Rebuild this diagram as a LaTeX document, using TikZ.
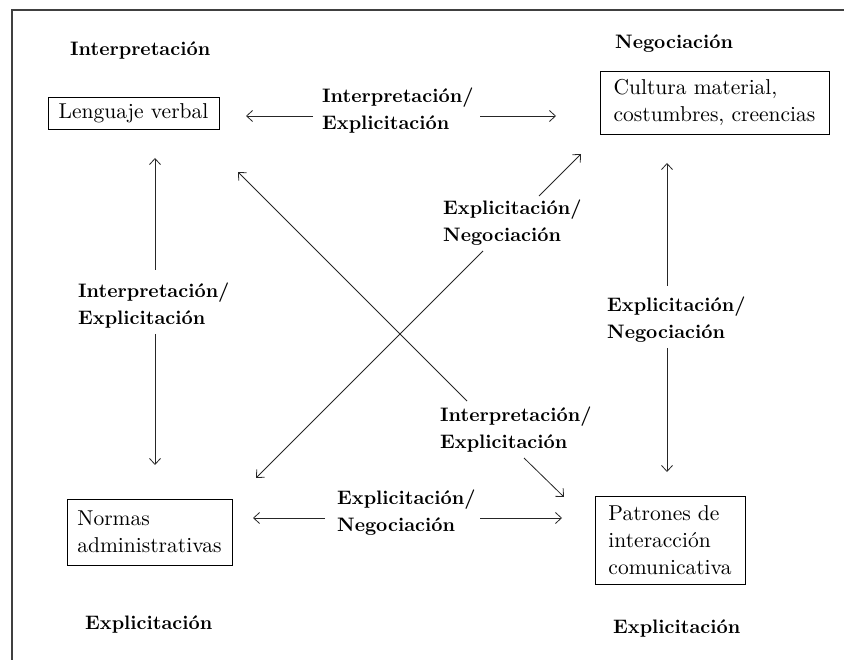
\documentclass[tikz,border=0pt]{standalone}
\usepackage{fontspec}
\setmainfont{lmroman10-regular}[Extension=.otf, BoldFont=lmroman10-bold]
\usetikzlibrary{arrows.meta}
\tikzset{
  lbl/.style={font=\fontsize{19.5}{27}\selectfont\bfseries, inner sep=0pt, align=left, anchor=base west},
  boxnode/.style={draw, line width=0.9pt, font=\fontsize{21.5}{27}\selectfont, inner sep=0pt, align=left},
  arr/.style={line width=0.8pt, draw=black!85, -{Straight Barb[length=6pt,width=11pt]}},
  frame/.style={line width=1.6pt, draw=black!75}
}
\begin{document}
\begin{tikzpicture}[x=1pt,y=-1pt]
\useasboundingbox (0,0) rectangle (844,660);
\draw[frame] (12,662) -- (12,10) -- (846,10);

% boxes
\node[boxnode, minimum width=171pt, minimum height=32pt] (lv) at (133.5,113) {Lenguaje verbal};
\node[boxnode, minimum width=229pt, minimum height=63pt] (cm) at (714.5,102.5) {Cultura material,\\costumbres, creencias};
\node[boxnode, minimum width=165pt, minimum height=66pt] (na) at (149.5,532) {Normas\\administrativas};
\node[boxnode, minimum width=150pt, minimum height=88pt] (pi) at (670,540) {Patrones de\\interacción\\comunicativa};

% corner labels
\node[lbl] (ci) at (70,56) {Interpretación};
\node[lbl] (cn) at (615,49) {Negociación};
\node[lbl] (ce1) at (85,629) {Explicitación};
\node[lbl] (ce2) at (613,633) {Explicitación};

% arrow labels (anchor at baseline of last line)
\node[lbl] (lt) at (322,130) {Interpretación/\\Explicitación};
\node[lbl] (ll) at (78,325) {Interpretación/\\Explicitación};
\node[lbl] (ld1) at (443,242) {Explicitación/\\Negociación};
\node[lbl] (lr) at (607,339) {Explicitación/\\Negociación};
\node[lbl] (ld2) at (440,449) {Interpretación/\\Explicitación};
\node[lbl] (lb) at (337,531) {Explicitación/\\Negociación};

% arrow end points
\coordinate (ta) at (313,116); \coordinate (tb) at (246,116);
\coordinate (tc) at (480,116); \coordinate (td) at (556,116);
\coordinate (la) at (155,270); \coordinate (lb1) at (155,158);
\coordinate (lc) at (155,334); \coordinate (ld) at (155,465);
\coordinate (ra) at (667,286); \coordinate (rb) at (667,163);
\coordinate (rc) at (667,348); \coordinate (rd) at (667,472);
\coordinate (ba) at (325,518); \coordinate (bb) at (253,518);
\coordinate (bc) at (480,518); \coordinate (bd) at (562,518);
\coordinate (da) at (483,251); \coordinate (db) at (256,478);
\coordinate (dc) at (539,196); \coordinate (dd) at (581,154);
\coordinate (ea) at (467,401); \coordinate (eb) at (238,172);
\coordinate (ec) at (524,458); \coordinate (ed) at (564,497);

\draw[arr] (ta) -- (tb);
\draw[arr] (tc) -- (td);
\draw[arr] (la) -- (lb1);
\draw[arr] (lc) -- (ld);
\draw[arr] (ra) -- (rb);
\draw[arr] (rc) -- (rd);
\draw[arr] (ba) -- (bb);
\draw[arr] (bc) -- (bd);
\draw[arr] (da) -- (db);
\draw[arr] (dc) -- (dd);
\draw[arr] (ea) -- (eb);
\draw[arr] (ec) -- (ed);
\end{tikzpicture}
\end{document}
